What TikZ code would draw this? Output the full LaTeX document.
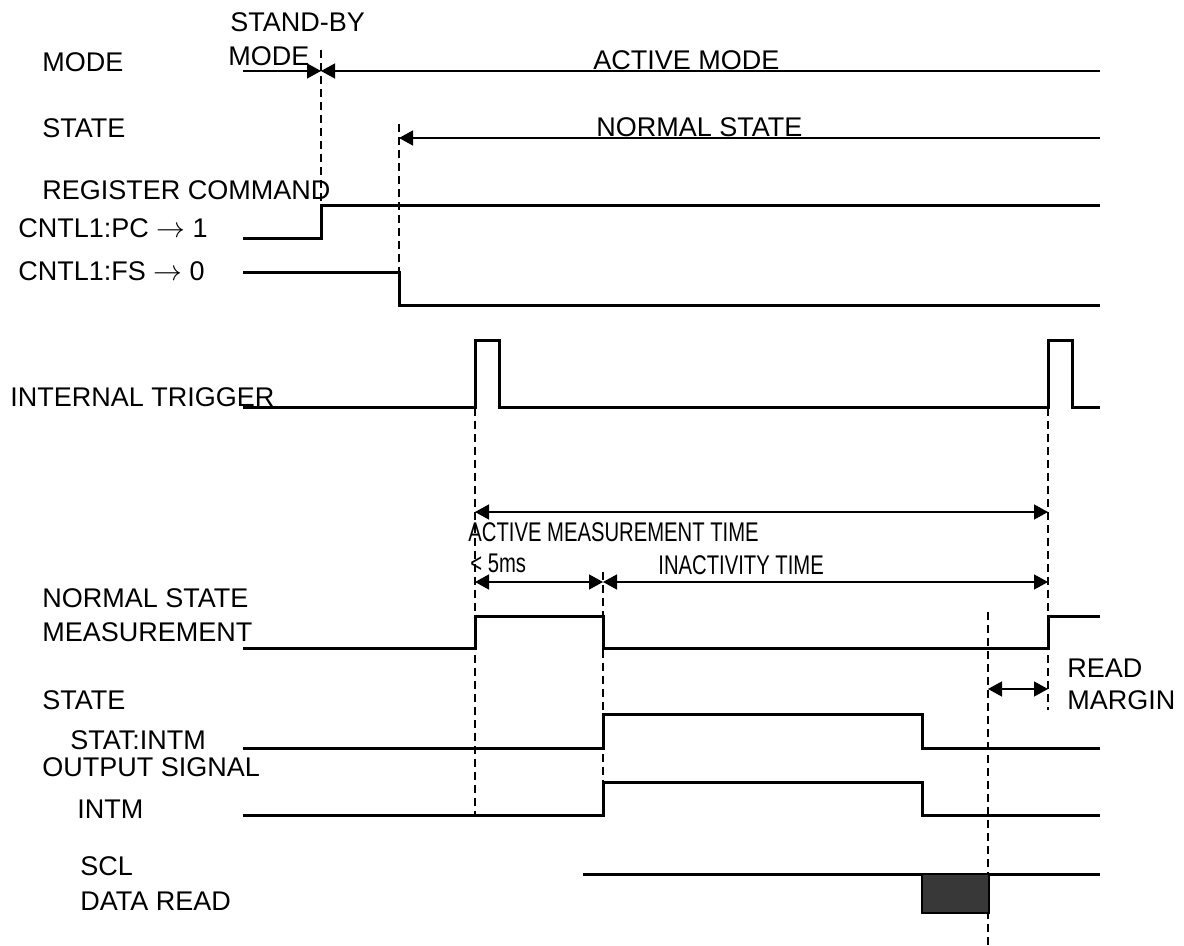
\documentclass[tikz,border=0pt]{standalone}
\usepackage{fontspec}
\setmainfont{Liberation Sans}
\newfontfamily\narrowfont[FakeStretch=0.75]{Liberation Sans}
\usetikzlibrary{arrows.meta}

\begin{document}
\begin{tikzpicture}
[x=0.5pt,y=-0.5pt,
 wave/.style={line width=1.5pt},
 guide/.style={line width=0.7pt,dash pattern=on 4pt off 2.5pt},
 tip/.style={line width=0.7pt,-{Triangle[length=7pt,width=7.5pt]}},
 span/.style={line width=0.7pt,{Triangle[length=7pt,width=7.5pt]}-{Triangle[length=7pt,width=7.5pt]}},
 txt/.style={anchor=west,inner sep=0pt,font=\fontsize{13.5}{16}\selectfont},
 ntxt/.style={txt,font=\fontsize{13.5}{16}\narrowfont}]

\useasboundingbox (0,0) rectangle (1184,946);

% signal names
\node[txt] (lmode) at (42,62) {MODE};
\node[txt] (lstate) at (42,128) {STATE};
\node[txt] (lreg) at (42,190) {REGISTER COMMAND};
\node[txt] (lpc) at (18,228) {CNTL1:PC $\rightarrow$ 1};
\node[txt] (lfs) at (18,271) {CNTL1:FS $\rightarrow$ 0};
\node[txt] (ltrig) at (10,397) {INTERNAL TRIGGER};
\node[txt] (lnsm1) at (42,598) {NORMAL STATE};
\node[txt] (lnsm2) at (42,632) {MEASUREMENT};
\node[txt] (lstat1) at (42,700) {STATE};
\node[txt] (lstat2) at (70,740) {STAT:INTM};
\node[txt] (lout1) at (42,767) {OUTPUT SIGNAL};
\node[txt] (lout2) at (77,809) {INTM};
\node[txt] (lscl1) at (80,866) {SCL};
\node[txt] (lscl2) at (80,901) {DATA READ};

% mode and state
\node[txt] (sby1) at (230,22) {STAND-BY};
\node[txt] (sby2) at (228,56) {MODE};
\node[txt] (amode) at (593,60) {ACTIVE MODE};
\node[txt] (nstate) at (596,127) {NORMAL STATE};
\draw[tip] (243,71) -- (321,71);
\draw[tip] (1100,71) -- (321,71);
\draw[tip] (1100,138) -- (399,138);

% guides
\draw[guide] (321,50) -- (321,206);
\draw[guide] (399,124) -- (399,273);
\draw[guide] (475,408) -- (475,815);
\draw[guide] (603,572) -- (603,782);
\draw[guide] (1048,408) -- (1048,710);
\draw[guide] (988,612) -- (988,946);

% waveforms
\draw[wave] (243,239) -- (321,239) -- (321,206) -- (1100,206);
\draw[wave] (243,273) -- (399,273) -- (399,306) -- (1100,306);
\draw[wave] (243,408) -- (475,408) -- (475,341) -- (499,341) -- (499,408)
	-- (1048,408) -- (1048,341) -- (1072,341) -- (1072,408) -- (1100,408);
\draw[wave] (243,648) -- (475,648) -- (475,616) -- (603,616) -- (603,648)
	-- (1048,648) -- (1048,616) -- (1100,616);
\draw[wave] (243,748) -- (603,748) -- (603,714) -- (922,714) -- (922,748) -- (1100,748);
\draw[wave] (243,815) -- (603,815) -- (603,782) -- (922,782) -- (922,815) -- (1100,815);
\draw[wave] (583,874) -- (922,874);
\draw[wave] (989,874) -- (1100,874);
\filldraw[line width=1pt,fill=black!78] (922,874) rectangle (989,913);

% timing
\draw[span] (475,512) -- (1048,512);
\node[ntxt] (amt) at (468,532) {ACTIVE MEASUREMENT TIME};
\draw[span] (475,582) -- (603,582);
\node[ntxt] (fivems) at (470,563) {< 5ms};
\draw[span] (603,582) -- (1048,582);
\node[ntxt] (inact) at (658,565) {INACTIVITY TIME};
\draw[span] (988,689) -- (1048,689);
\node[txt] (rm1) at (1067,668) {READ};
\node[txt] (rm2) at (1067,700) {MARGIN};
\end{tikzpicture}
\end{document}
